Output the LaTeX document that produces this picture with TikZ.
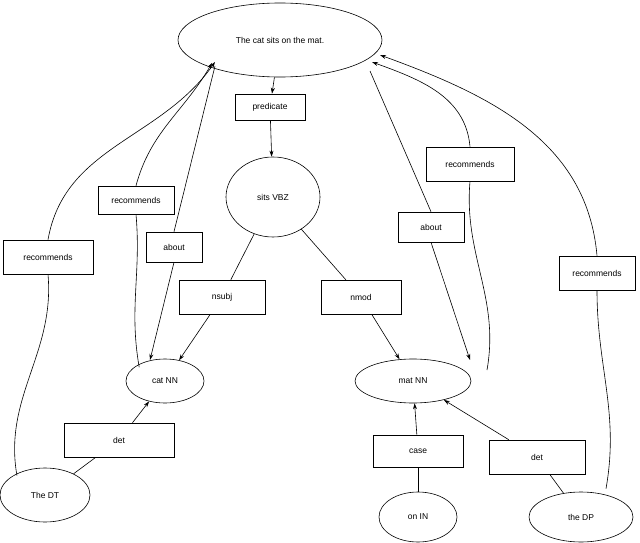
\documentclass[tikz,border=0pt]{standalone}
\usepackage{fontspec}
\setmainfont{Liberation Sans}
\usetikzlibrary{shapes.geometric,arrows.meta}
\begin{document}
\begin{tikzpicture}[x=1pt,y=-1pt,
  every node/.style={font=\fontsize{8.5}{10}\selectfont},
  el/.style={draw,ellipse,inner sep=0pt},
  bx/.style={draw,rectangle,inner sep=0pt},
  ar/.style={-{Stealth[length=6pt,width=4pt]}},
  line width=0.6pt]
\useasboundingbox (0,0) rectangle (640,543);
\node[el,minimum width=204,minimum height=74] (top) at (280,40) {The cat sits on the mat.};
\node[bx,minimum width=70,minimum height=26] (pred) at (270,107) {predicate};
\node[el,minimum width=94,minimum height=80] (sits) at (273,197) {sits VBZ};
\node[bx,minimum width=86,minimum height=34] (nsubj) at (222,297) {nsubj};
\node[bx,minimum width=80,minimum height=34] (nmod) at (361,297) {nmod};
\node[el,minimum width=78,minimum height=44] (cat) at (165,381) {cat NN};
\node[el,minimum width=116,minimum height=44] (mat) at (413,381) {mat NN};
\node[bx,minimum width=110,minimum height=34] (detl) at (119,440) {det};
\node[el,minimum width=90,minimum height=54] (dt) at (45,495) {The DT};
\node[bx,minimum width=90,minimum height=32] (case) at (418,451) {case};
\node[el,minimum width=78,minimum height=50] (on) at (418,517) {on IN};
\node[bx,minimum width=96,minimum height=34] (detr) at (537,457) {det};
\node[el,minimum width=104,minimum height=50] (dp) at (581,517) {the DP};
\node[bx,minimum width=90,minimum height=34] (rec1) at (48,257) {recommends};
\node[bx,minimum width=76,minimum height=28] (rec2) at (136,200) {recommends};
\node[bx,minimum width=56,minimum height=30] (ab1) at (174,247) {about};
\node[bx,minimum width=66,minimum height=30] (ab2) at (431,227) {about};
\node[bx,minimum width=88,minimum height=34] (rec3) at (470,164) {recommends};
\node[bx,minimum width=76,minimum height=34] (rec4) at (597,273) {recommends};
\coordinate (t1) at (215,62);
\coordinate (t2) at (212,63);
\coordinate (t3) at (372,62);
\coordinate (t4) at (380,55);

\draw[ar] (top) -- (pred);
\draw[ar] (pred) -- (sits);
\draw (sits) -- (nsubj);
\draw[ar] (nsubj) -- (cat);
\draw (sits) -- (nmod);
\draw[ar] (nmod) -- (mat);
\draw (dt) -- (detl);
\draw[ar] (detl) -- (cat);
\draw (on) -- (case);
\draw[ar] (case) -- (mat);
\draw (dp) -- (detr);
\draw[ar] (detr) -- (mat);
\draw (dt.north west) ++(4,0) to[out=100,in=-85] (rec1.south);
\draw[ar] (rec1.north) to[out=80,in=-125] (t1);
\draw (cat.north west) ++(2,2) to[out=100,in=-85] (rec2.south);
\draw[ar] (rec2.north) to[out=75,in=-120] (t2);
\draw (215,66) -- (ab1.north);
\draw[ar] (ab1.south) -- (150,360);
\draw (370,71) -- (ab2.north);
\draw[ar] (ab2.south) -- (470,360);
\draw (487,370) to[out=80,in=-95] (rec3.south);
\draw[ar] (rec3.north) to[out=95,in=-20] (t3);
\draw (dp.north) ++(25,-3) to[out=80,in=-90] (rec4.south);
\draw[ar] (rec4.north) to[out=95,in=-20] (t4);
\end{tikzpicture}
\end{document}
